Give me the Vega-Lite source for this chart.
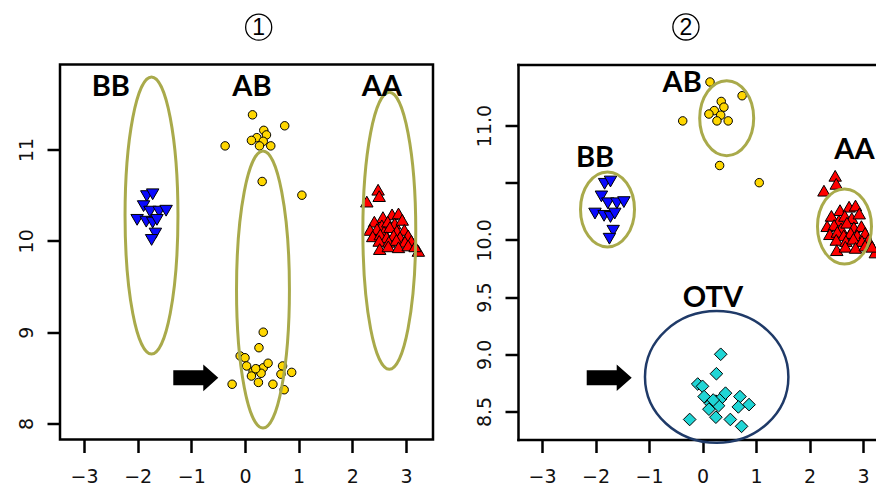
{
  "$schema": "https://vega.github.io/schema/vega-lite/v6.json",
  "background": "white",
  "padding": {"left": 15, "top": 9.5, "right": 0, "bottom": 0},
  "bounds": "flush",
  "spacing": 85,
  "config": {
    "view": {"stroke": null},
    "axis": {"grid": false, "domain": false, "ticks": true, "tickColor": "black", "tickWidth": 2.5, "tickSize": 13, "labelFont": "DejaVu Sans", "labelFontSize": 19, "labelColor": "#111111", "labelOverlap": false, "labelFlush": false, "domainColor": "black", "domainWidth": 2.5, "domainCap": "square"},
    "axisX": {"labelBaseline": "top", "labelPadding": 15, "labelAngle": 0, "labelAlign": "center"},
    "axisY": {"labelAngle": -90, "labelAlign": "center", "labelBaseline": "bottom", "labelPadding": 11}
  },
  "datasets": {
    "pts": [
      {"g": "BB", "x": -1.83, "y": 10.49}, {"g": "BB", "x": -1.72, "y": 10.51}, {"g": "BB", "x": -1.89, "y": 10.38}, {"g": "BB", "x": -1.77, "y": 10.32}, {"g": "BB", "x": -1.60, "y": 10.32}, {"g": "BB", "x": -1.47, "y": 10.33}, {"g": "BB", "x": -2.01, "y": 10.23}, {"g": "BB", "x": -1.84, "y": 10.21}, {"g": "BB", "x": -1.72, "y": 10.20}, {"g": "BB", "x": -1.64, "y": 10.23}, {"g": "BB", "x": -1.67, "y": 10.08}, {"g": "BB", "x": -1.74, "y": 10.01},
      {"g": "AB", "x": 0.14, "y": 11.38}, {"g": "AB", "x": 0.74, "y": 11.26}, {"g": "AB", "x": -0.37, "y": 11.04}, {"g": "AB", "x": 0.35, "y": 11.21}, {"g": "AB", "x": 0.40, "y": 11.16}, {"g": "AB", "x": 0.22, "y": 11.13}, {"g": "AB", "x": 0.12, "y": 11.10}, {"g": "AB", "x": 0.34, "y": 11.09}, {"g": "AB", "x": 0.27, "y": 11.04}, {"g": "AB", "x": 0.48, "y": 11.04}, {"g": "AB", "x": 0.32, "y": 10.65}, {"g": "AB", "x": 1.06, "y": 10.50},
      {"g": "OTV", "x": 0.34, "y": 9.00}, {"g": "OTV", "x": 0.26, "y": 8.83}, {"g": "OTV", "x": -0.09, "y": 8.74}, {"g": "OTV", "x": 0.00, "y": 8.72}, {"g": "OTV", "x": 0.03, "y": 8.63}, {"g": "OTV", "x": 0.15, "y": 8.57}, {"g": "OTV", "x": 0.25, "y": 8.59}, {"g": "OTV", "x": 0.34, "y": 8.61}, {"g": "OTV", "x": 0.43, "y": 8.66}, {"g": "OTV", "x": 0.70, "y": 8.63}, {"g": "OTV", "x": 0.67, "y": 8.54}, {"g": "OTV", "x": 0.87, "y": 8.56}, {"g": "OTV", "x": 0.25, "y": 8.45}, {"g": "OTV", "x": 0.30, "y": 8.55}, {"g": "OTV", "x": 0.52, "y": 8.43}, {"g": "OTV", "x": 0.73, "y": 8.37}, {"g": "OTV", "x": -0.24, "y": 8.43}, {"g": "OTV", "x": 0.12, "y": 8.52}, {"g": "OTV", "x": 0.20, "y": 8.60},
      {"g": "AA", "x": 2.48, "y": 10.56}, {"g": "AA", "x": 2.50, "y": 10.49}, {"g": "AA", "x": 2.27, "y": 10.43}, {"g": "AA", "x": 2.57, "y": 10.26}, {"g": "AA", "x": 2.74, "y": 10.29}, {"g": "AA", "x": 2.86, "y": 10.30}, {"g": "AA", "x": 2.41, "y": 10.21}, {"g": "AA", "x": 2.55, "y": 10.17}, {"g": "AA", "x": 2.66, "y": 10.21}, {"g": "AA", "x": 2.79, "y": 10.19}, {"g": "AA", "x": 2.93, "y": 10.23}, {"g": "AA", "x": 2.33, "y": 10.12}, {"g": "AA", "x": 2.46, "y": 10.13}, {"g": "AA", "x": 2.59, "y": 10.10}, {"g": "AA", "x": 2.70, "y": 10.15}, {"g": "AA", "x": 2.83, "y": 10.11}, {"g": "AA", "x": 2.97, "y": 10.12}, {"g": "AA", "x": 2.38, "y": 10.05}, {"g": "AA", "x": 2.52, "y": 10.07}, {"g": "AA", "x": 2.64, "y": 10.04}, {"g": "AA", "x": 2.77, "y": 10.06}, {"g": "AA", "x": 2.89, "y": 10.04}, {"g": "AA", "x": 3.04, "y": 10.06}, {"g": "AA", "x": 2.50, "y": 10.00}, {"g": "AA", "x": 2.68, "y": 9.99}, {"g": "AA", "x": 2.82, "y": 10.01}, {"g": "AA", "x": 2.98, "y": 9.99}, {"g": "AA", "x": 3.10, "y": 10.00}, {"g": "AA", "x": 2.51, "y": 9.91}, {"g": "AA", "x": 2.67, "y": 9.94}, {"g": "AA", "x": 2.86, "y": 9.93}, {"g": "AA", "x": 3.04, "y": 9.95}, {"g": "AA", "x": 3.23, "y": 9.89}, {"g": "AA", "x": 3.17, "y": 9.94}
    ],
    "ell1": [{"x": -1.742, "y": 10.277}, {"x": 0.335, "y": 9.467}, {"x": 2.689, "y": 10.11}],
    "ell2": [{"x": -1.776, "y": 10.266}, {"x": 0.452, "y": 11.064}, {"x": 2.654, "y": 10.117}],
    "otv": [{"x": 0.265, "y": 8.802}],
    "arr1": [{"x": -0.917, "y": 8.5}],
    "arr2": [{"x": -1.744, "y": 8.795}],
    "tag1": [{"label": "1", "x": 0.255, "y": 12.34}],
    "tag2": [{"label": "2", "x": -0.31, "y": 11.861}],
    "lab1": [{"label": "BB", "x": -2.5, "y": 11.68}, {"label": "AB", "x": 0.13, "y": 11.68}, {"label": "AA", "x": 2.55, "y": 11.68}],
    "lab2": [{"label": "AB", "x": -0.38, "y": 11.375}, {"label": "BB", "x": -2.01, "y": 10.715}, {"label": "AA", "x": 2.84, "y": 10.785}, {"label": "OTV", "x": 0.196, "y": 9.49}]
  },
  "hconcat": [
    {
      "width": 373,
      "height": 375,
      "view": {"stroke": "black", "strokeWidth": 2.5},
      "encoding": {
        "x": {"field": "x", "type": "quantitative", "scale": {"domain": [-3.447, 3.503], "nice": false, "zero": false}, "axis": {"values": [-3, -2, -1, 0, 1, 2, 3], "format": "d", "title": null}},
        "y": {"field": "y", "type": "quantitative", "scale": {"domain": [7.825, 11.931], "nice": false, "zero": false}, "axis": {"values": [8, 9, 10, 11], "format": "d", "title": null}}
      },
      "layer": [
        {"data": {"name": "pts"}, "transform": [{"filter": "datum.g == 'AB' || datum.g == 'OTV'"}], "mark": {"type": "point", "shape": "circle", "filled": true, "size": 72, "fill": "#ffd700", "stroke": "black", "strokeWidth": 1, "opacity": 1}},
        {"data": {"name": "pts"}, "transform": [{"filter": "datum.g == 'BB'"}], "mark": {"type": "point", "shape": "triangle-down", "filled": true, "size": 155, "fill": "#0a0aff", "stroke": "black", "strokeWidth": 1, "opacity": 1}},
        {"data": {"name": "pts"}, "transform": [{"filter": "datum.g == 'AA'"}], "mark": {"type": "point", "shape": "triangle-up", "filled": true, "size": 155, "fill": "#ff0000", "stroke": "black", "strokeWidth": 1, "opacity": 1}},
        {"data": {"name": "ell1"}, "mark": {"type": "point", "shape": "M 0.191,0 C 0.191,0.5523 0.1055,1 0,1 C -0.1055,1 -0.191,0.5523 -0.191,0 C -0.191,-0.5523 -0.1055,-1 0,-1 C 0.1055,-1 0.191,-0.5523 0.191,0 Z", "filled": false, "size": 76729, "stroke": "#a9aa4b", "strokeWidth": 3, "opacity": 1}},
        {"data": {"name": "arr1"}, "mark": {"type": "point", "shape": "M -1,-0.333 L 0.333,-0.333 L 0.333,-0.59 L 1,0 L 0.333,0.59 L 0.333,0.333 L -1,0.333 Z", "filled": true, "size": 2025, "fill": "black", "strokeWidth": 0, "opacity": 1}},
        {"data": {"name": "lab1"}, "mark": {"type": "text", "font": "Lato", "fontWeight": "bold", "fontSize": 29, "color": "black", "align": "center", "baseline": "middle"}, "encoding": {"text": {"field": "label"}}},
        {"data": {"name": "tag1"}, "mark": {"type": "point", "shape": "circle", "filled": false, "size": 680, "stroke": "black", "strokeWidth": 1.3, "opacity": 1, "clip": false}},
        {"data": {"name": "tag1"}, "mark": {"type": "text", "font": "Liberation Sans", "fontSize": 23, "color": "black", "align": "center", "baseline": "middle", "dy": 1, "clip": false}, "encoding": {"text": {"field": "label"}}}
      ]
    },
    {
      "width": 358,
      "height": 375,
      "resolve": {"axis": {"x": "independent"}},
      "encoding": {
        "x": {"field": "x", "type": "quantitative", "scale": {"domain": [-3.449, 3.243], "nice": false, "zero": false}, "axis": null},
        "y": {"field": "y", "type": "quantitative", "scale": {"domain": [8.255, 11.533], "nice": false, "zero": false}, "axis": {"values": [8.5, 9, 9.5, 10, 10.5, 11], "format": ".1f", "labelExpr": "datum.value == 10.5 ? '' : datum.label", "domain": true, "title": null}}
      },
      "layer": [
        {"data": {"name": "pts"}, "transform": [{"filter": "datum.g == 'AB'"}], "mark": {"type": "point", "shape": "circle", "filled": true, "size": 72, "fill": "#ffd700", "stroke": "black", "strokeWidth": 1, "opacity": 1},
         "encoding": {"x": {"field": "x", "type": "quantitative", "axis": {"values": [-3, -2, -1, 0, 1, 2, 3], "format": "d", "title": null, "domain": true}}}},
        {"data": {"name": "pts"}, "transform": [{"filter": "datum.g == 'BB'"}], "mark": {"type": "point", "shape": "triangle-down", "filled": true, "size": 155, "fill": "#0a0aff", "stroke": "black", "strokeWidth": 1, "opacity": 1},
         "encoding": {"x": {"field": "x", "type": "quantitative", "axis": {"orient": "top", "ticks": false, "labels": false, "domain": true, "title": null}}}},
        {"data": {"name": "pts"}, "transform": [{"filter": "datum.g == 'AA'"}], "mark": {"type": "point", "shape": "triangle-up", "filled": true, "size": 155, "fill": "#ff0000", "stroke": "black", "strokeWidth": 1, "opacity": 1, "clip": true}},
        {"data": {"name": "pts"}, "transform": [{"filter": "datum.g == 'OTV'"}], "mark": {"type": "point", "shape": "diamond", "filled": true, "size": 160, "fill": "#20d5d5", "stroke": "black", "strokeWidth": 1, "opacity": 1}},
        {"data": {"name": "ell2"}, "mark": {"type": "point", "shape": "M 0.72,0 C 0.72,0.5523 0.3977,1 0,1 C -0.3977,1 -0.72,0.5523 -0.72,0 C -0.72,-0.5523 -0.3977,-1 0,-1 C 0.3977,-1 0.72,-0.5523 0.72,0 Z", "filled": false, "size": 5625, "stroke": "#a9aa4b", "strokeWidth": 3, "opacity": 1}},
        {"data": {"name": "otv"}, "mark": {"type": "point", "shape": "M 1,0 C 1,0.507 0.5523,0.918 0,0.918 C -0.5523,0.918 -1,0.507 -1,0 C -1,-0.507 -0.5523,-0.918 0,-0.918 C 0.5523,-0.918 1,-0.507 1,0 Z", "filled": false, "size": 20564, "stroke": "#1f3a68", "strokeWidth": 2.5, "opacity": 1}},
        {"data": {"name": "arr2"}, "mark": {"type": "point", "shape": "M -1,-0.333 L 0.333,-0.333 L 0.333,-0.59 L 1,0 L 0.333,0.59 L 0.333,0.333 L -1,0.333 Z", "filled": true, "size": 2025, "fill": "black", "strokeWidth": 0, "opacity": 1}},
        {"data": {"name": "lab2"}, "mark": {"type": "text", "font": "Lato", "fontWeight": "bold", "fontSize": 29, "color": "black", "align": "center", "baseline": "middle", "clip": true}, "encoding": {"text": {"field": "label"}}},
        {"data": {"name": "tag2"}, "mark": {"type": "point", "shape": "circle", "filled": false, "size": 680, "stroke": "black", "strokeWidth": 1.3, "opacity": 1, "clip": false}},
        {"data": {"name": "tag2"}, "mark": {"type": "text", "font": "Liberation Sans", "fontSize": 23, "color": "black", "align": "center", "baseline": "middle", "dy": 1, "clip": false}, "encoding": {"text": {"field": "label"}}}
      ]
    }
  ]
}
